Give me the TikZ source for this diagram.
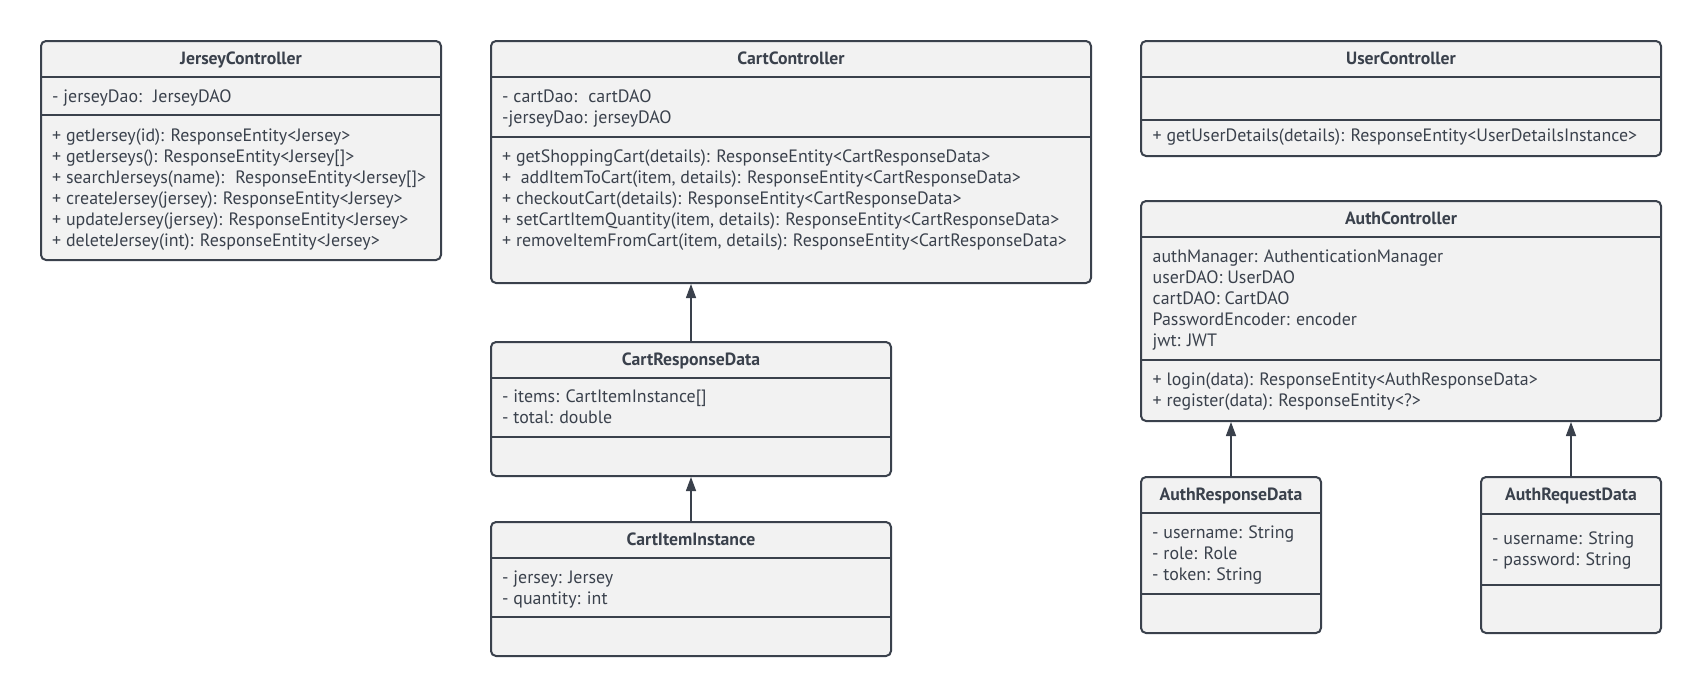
\documentclass[tikz,border=0pt]{standalone}
\usepackage{fontspec}
\setmainfont{PT Sans}
\usetikzlibrary{arrows.meta}
\definecolor{ink}{RGB}{58,65,76}
\definecolor{boxfill}{RGB}{242,242,242}
\begin{document}
\begin{tikzpicture}[x=1pt,y=-1pt,
  umlbox/.style={draw=ink, fill=boxfill, line width=2pt, rounded corners=5pt, inner sep=0pt, anchor=north west},
  divider/.style={draw=ink, line width=2pt},
  ttl/.style={font=\fontsize{17.7}{20}\selectfont\bfseries, text=ink, anchor=base, inner sep=0pt},
  mem/.style={font=\fontsize{17.9}{20}\selectfont, text=ink, anchor=base west, inner sep=0pt},
  inherit/.style={draw=ink, line width=1.3pt, -{Triangle[length=14pt,width=10pt]}}]
\useasboundingbox (0,0) rectangle (1700,696);

% JerseyController
\node[umlbox, minimum width=400pt, minimum height=219pt] (jc) at (40,40) {};
\draw[divider] (jc.west |- 0,77) -- (jc.east |- 0,77);
\draw[divider] (jc.west |- 0,115) -- (jc.east |- 0,115);
\node[ttl] (jcT) at (jc.north |- 0,64.5) {JerseyController};
\node[mem] (jcA0) at (52,102.5) {- jerseyDao:~ JerseyDAO};
\foreach \t [count=\i from 0] in {
  {+ getJersey(id): ResponseEntity<Jersey>},
  {+ getJerseys(): ResponseEntity<Jersey[]>},
  {+ searchJerseys(name):~ ResponseEntity<Jersey[]>},
  {+ createJersey(jersey): ResponseEntity<Jersey>},
  {+ updateJersey(jersey): ResponseEntity<Jersey>},
  {+ deleteJersey(int): ResponseEntity<Jersey>}}
  \node[mem] (jcM\i) at (52,141.5+21*\i) {\t};

% CartController
\node[umlbox, minimum width=600pt, minimum height=242pt] (cc) at (490,40) {};
\draw[divider] (cc.west |- 0,77) -- (cc.east |- 0,77);
\draw[divider] (cc.west |- 0,137) -- (cc.east |- 0,137);
\node[ttl] (ccT) at (cc.north |- 0,64.5) {CartController};
\node[mem] (ccA0) at (502,102.5) {- cartDao:~ cartDAO};
\node[mem] (ccA1) at (502,123.5) {-jerseyDao: jerseyDAO};
\foreach \t [count=\i from 0] in {
  {+ getShoppingCart(details): ResponseEntity<CartResponseData>},
  {+~ addItemToCart(item, details): ResponseEntity<CartResponseData>},
  {+ checkoutCart(details): ResponseEntity<CartResponseData>},
  {+ setCartItemQuantity(item, details): ResponseEntity<CartResponseData>},
  {+ removeItemFromCart(item, details): ResponseEntity<CartResponseData>}}
  \node[mem] (ccM\i) at (502,162+21*\i) {\t};

% CartResponseData
\node[umlbox, minimum width=400pt, minimum height=134pt] (crd) at (490,341) {};
\draw[divider] (crd.west |- 0,377.5) -- (crd.east |- 0,377.5);
\draw[divider] (crd.west |- 0,437) -- (crd.east |- 0,437);
\node[ttl] (crdT) at (crd.north |- 0,365) {CartResponseData};
\node[mem] (crdA0) at (502,402) {- items: CartItemInstance[]};
\node[mem] (crdA1) at (502,423) {- total: double};

% CartItemInstance
\node[umlbox, minimum width=400pt, minimum height=134pt] (cii) at (490,521) {};
\draw[divider] (cii.west |- 0,557.5) -- (cii.east |- 0,557.5);
\draw[divider] (cii.west |- 0,617) -- (cii.east |- 0,617);
\node[ttl] (ciiT) at (cii.north |- 0,545) {CartItemInstance};
\node[mem] (ciiA0) at (502,583) {- jersey: Jersey};
\node[mem] (ciiA1) at (502,604) {- quantity: int};

% UserController
\node[umlbox, minimum width=520pt, minimum height=115pt] (uc) at (1140,40) {};
\draw[divider] (uc.west |- 0,77) -- (uc.east |- 0,77);
\draw[divider] (uc.west |- 0,120) -- (uc.east |- 0,120);
\node[ttl] (ucT) at (uc.north |- 0,64.5) {UserController};
\node[mem] (ucM0) at (1152.5,141.5) {+ getUserDetails(details): ResponseEntity<UserDetailsInstance>};

% AuthController
\node[umlbox, minimum width=520pt, minimum height=220pt] (ac) at (1140,200) {};
\draw[divider] (ac.west |- 0,236.5) -- (ac.east |- 0,236.5);
\draw[divider] (ac.west |- 0,360) -- (ac.east |- 0,360);
\node[ttl] (acT) at (ac.north |- 0,224) {AuthController};
\foreach \t [count=\i from 0] in {
  {authManager: AuthenticationManager},
  {userDAO: UserDAO},
  {cartDAO: CartDAO},
  {PasswordEncoder: encoder},
  {jwt: JWT}}
  \node[mem] (acA\i) at (1152.5,262+21.1*\i) {\t};
\node[mem] (acM0) at (1152.5,385.5) {+ login(data): ResponseEntity<AuthResponseData>};
\node[mem] (acM1) at (1152.5,406.5) {+ register(data): ResponseEntity<?>};

% AuthResponseData
\node[umlbox, minimum width=180pt, minimum height=156pt] (ard) at (1140,476) {};
\draw[divider] (ard.west |- 0,513) -- (ard.east |- 0,513);
\draw[divider] (ard.west |- 0,594) -- (ard.east |- 0,594);
\node[ttl] (ardT) at (ard.north |- 0,500.5) {AuthResponseData};
\node[mem] (ardA0) at (1152,538.5) {- username: String};
\node[mem] (ardA1) at (1152,559.5) {- role: Role};
\node[mem] (ardA2) at (1152,580.5) {- token: String};

% AuthRequestData
\node[umlbox, minimum width=180pt, minimum height=156pt] (arq) at (1480,476) {};
\draw[divider] (arq.west |- 0,514) -- (arq.east |- 0,514);
\draw[divider] (arq.west |- 0,585) -- (arq.east |- 0,585);
\node[ttl] (arqT) at (arq.north |- 0,500.5) {AuthRequestData};
\node[mem] (arqA0) at (1492,544) {- username: String};
\node[mem] (arqA1) at (1492,565) {- password: String};

% connectors
\draw[inherit] (crd.north) -- (crd.north |- cc.south);
\draw[inherit] (cii.north) -- (cii.north |- crd.south);
\draw[inherit] (ard.north) -- (ard.north |- ac.south);
\draw[inherit] (arq.north) -- (arq.north |- ac.south);
\end{tikzpicture}
\end{document}
